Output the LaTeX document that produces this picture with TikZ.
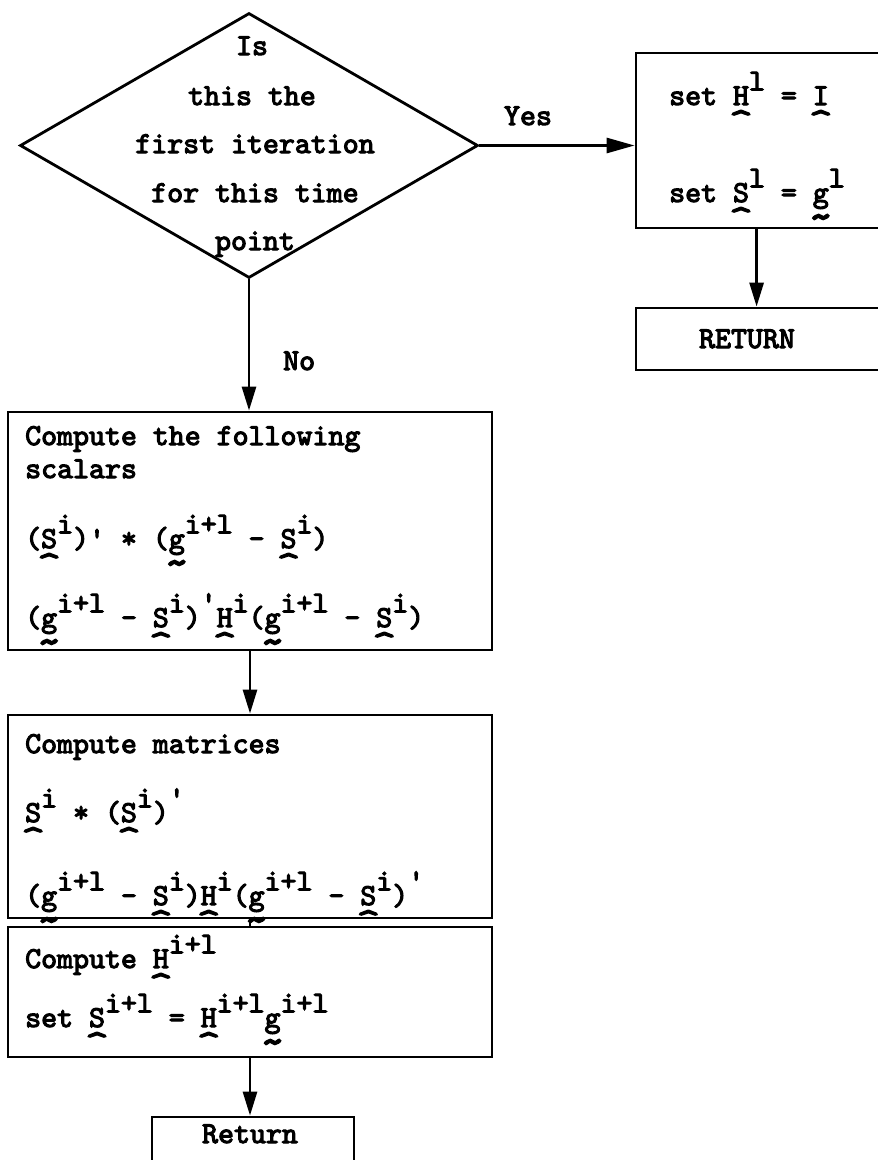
\documentclass[tikz,border=0pt]{standalone}
\usepackage{fontspec}
\usetikzlibrary{shapes.geometric,arrows.meta}
% typewriter face, set heavy like the ribbon print
\newfontfamily\tw{lmmono10-regular.otf}[FakeBold=3.6]
% letter with a caret underneath (matrix / vector marks of the typescript)
\newcommand\uh[1]{\ooalign{#1\cr\hidewidth\raisebox{-.92em}{\scalebox{1.5}[1.2]{\textasciicircum}}\hidewidth\cr}}
% letter with a tilde underneath
\newcommand\ut[1]{\ooalign{#1\cr\hidewidth\raisebox{-.92em}{\scalebox{1.5}[1.4]{\textasciitilde}}\hidewidth\cr}}
% typewriter superscript: same size, half a line up
\newcommand\up[1]{\raisebox{.48em}{#1}}
\newcommand\pr{\textquotesingle}

\begin{document}
\begin{tikzpicture}[x=1pt,y=-1pt,
  font=\fontsize{30.4}{34}\tw,
  box/.style={draw, line width=2.8pt, inner sep=0pt},
  txt/.style={anchor=base west, inner sep=0pt},
  ctxt/.style={anchor=base, inner sep=0pt},
  flow/.style={line width=2.8pt, -{Triangle[length=24pt,width=14pt]}},
  flowh/.style={line width=2.8pt, -{Triangle[length=28pt,width=15pt]}},
]
\fill[white] (0,0) rectangle (878,1160);
\useasboundingbox (0,0) rectangle (878,1160);

% decision
\node[draw, diamond, line width=2.8pt, inner sep=0pt,
      minimum width=458pt, minimum height=265pt] (q) at (249,145.5) {};
\node[ctxt] (q1) at (252,55)  {Is};
\node[ctxt] (q2) at (252,105) {this the};
\node[ctxt] (q3) at (255,153) {first iteration};
\node[ctxt] (q4) at (255,202) {for this time};
\node[ctxt] (q5) at (255,250) {point};

% first-iteration branch
\node[box, minimum width=259pt, minimum height=175pt] (rb1) at (765.5,140.5) {};
\node[txt] (r1) at (669,105) {set \uh{H}\up{l} = \uh{I}};
\node[txt] (r2) at (669,202) {set \uh{S}\up{l} = \ut{g}\up{l}};
\node[box, minimum width=259pt, minimum height=62pt] (ret1) at (765.5,339) {};
\node[ctxt] (rt1) at (747,348) {RETURN};

% update branch
\node[box, minimum width=484pt, minimum height=238pt] (b1) at (250,531) {};
\node[txt] (c1) at (25,445) {Compute the following};
\node[txt] (c2) at (25,478) {scalars};
\node[txt] (c3) at (25,548) {(\uh{S}\up{i})\pr{} * (\ut{g}\up{i+l} - \uh{S}\up{i})};
\node[txt] (c4) at (25,627) {(\ut{g}\up{i+l} - \uh{S}\up{i})\up{\pr}\uh{H}\up{i}(\ut{g}\up{i+l} - \uh{S}\up{i})};

\node[box, minimum width=484pt, minimum height=203pt] (b2) at (250,816.5) {};
\node[txt] (m1) at (25,753) {Compute matrices};
\node[txt] (m2) at (25,822) {\uh{S}\up{i} * (\uh{S}\up{i})\up{\pr}};
\node[txt] (m3) at (25,905) {(\ut{g}\up{i+l} - \uh{S}\up{i})\uh{H}\up{i}(\ut{g}\up{i+l} - \uh{S}\up{i})\up{\pr}};

\node[box, minimum width=484pt, minimum height=130pt] (b3) at (250,992) {};
\node[txt] (h1) at (25,968)  {Compute \uh{H}\up{i+l}};
\node[txt] (h2) at (25,1027) {set \uh{S}\up{i+l} = \uh{H}\up{i+l}\ut{g}\up{i+l}};

\node[box, minimum width=202pt, minimum height=73pt] (ret2) at (253,1153.5) {};
\node[ctxt] (rt2) at (250,1143) {Return};

% connectors
\draw[flowh] (q.east) -- (q.east -| rb1.west);
\node[ctxt] (yes) at (528,125) {Yes};
\draw[flow] ([xshift=122pt]rb1.south west) -- ([xshift=122pt]ret1.north west);
\draw[flow] (q.south) -- (q.south |- b1.north);
\node[txt] (no) at (283,370) {No};
\draw[flow] (b1.south) -- (b2.north);
\draw[line width=1.2pt] (b2.south) -- (b3.north);
\draw[flow] (b3.south) -- (b3.south |- ret2.north);
\end{tikzpicture}
\end{document}
